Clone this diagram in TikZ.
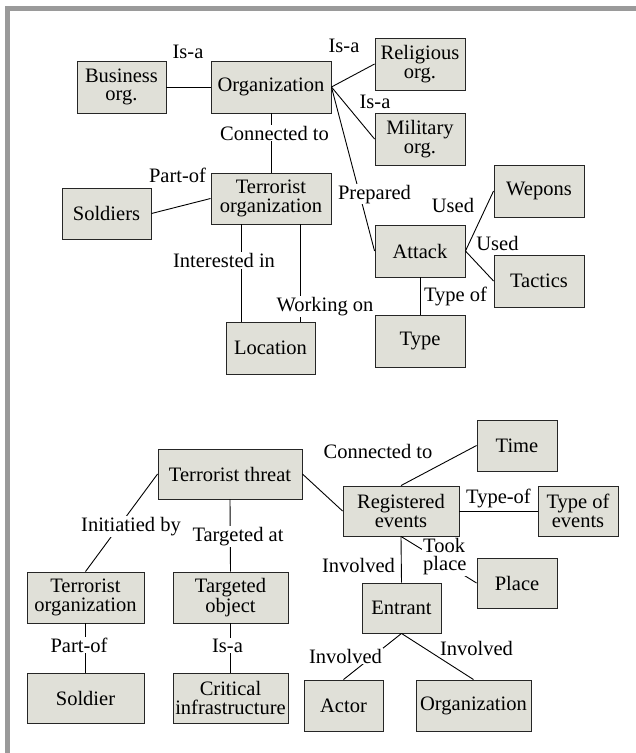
\documentclass[tikz,border=0pt]{standalone}
\usepackage{fontspec}
\setmainfont{Liberation Serif}
\newfontfamily\diagfont{Liberation Serif}
\definecolor{boxfill}{RGB}{224,224,216}
\definecolor{framegray}{RGB}{154,154,154}
\begin{document}
\begin{tikzpicture}[x=1pt,y=-1pt,
  txt/.style={font=\diagfont\fontsize{20.5}{18.5}\selectfont},
  box/.style={txt,draw=black!85,fill=boxfill,line width=0.9pt,inner sep=0pt,align=center},
  lab/.style={txt,fill=white,inner sep=1pt,anchor=base},
  conn/.style={line width=0.9pt,black}]
\useasboundingbox (0,0) rectangle (636,753);
% frame
\fill[framegray] (5,6) rectangle (636,10.5);
\fill[framegray] (5,6) rectangle (9.5,753);
% ---------- top diagram ----------
\node[box,minimum width=89pt,minimum height=52pt] (bus) at (121.5,87) {Business\\org.};
\node[box,minimum width=120pt,minimum height=52pt] (org) at (271,87) {Organization};
\node[box,minimum width=90pt,minimum height=52pt] (rel) at (420,64) {Religious\\org.};
\node[box,minimum width=90pt,minimum height=52pt] (mil) at (420,139) {Military\\org.};
\node[box,minimum width=120pt,minimum height=51pt] (torg) at (271,198.5) {Terrorist\\organization};
\node[box,minimum width=89pt,minimum height=51pt] (sol) at (106.5,213.5) {Soldiers};
\node[box,minimum width=89pt,minimum height=52pt] (loc) at (270.5,348) {Location};
\node[box,minimum width=90pt,minimum height=52pt] (att) at (420,251) {Attack};
\node[box,minimum width=90pt,minimum height=52pt] (wep) at (539,191) {Wepons};
\node[box,minimum width=90pt,minimum height=52pt] (tac) at (539,281) {Tactics};
\node[box,minimum width=90pt,minimum height=52pt] (typ) at (420,341) {Type};
% connectors
\draw[conn] (bus.east) -- (org.west);
\draw[conn] (org.east) -- (rel.west);
\draw[conn] (org.east) -- (mil.west);
\draw[conn] (org.east) -- (att.west);
\draw[conn] (org.south) -- (torg.north);
\draw[conn] (sol.east) -- (torg.west);
\draw[conn] ([xshift=-30pt]torg.south) -- ([xshift=-30pt]torg.south |- loc.north);
\draw[conn] ([xshift=29pt]torg.south) -- ([xshift=29pt]torg.south |- loc.north);
\draw[conn] (att.east) -- (wep.west);
\draw[conn] (att.east) -- (tac.west);
\draw[conn] (att.south) -- (typ.north);
% labels
\node[lab] (l1) at (188,58) {Is-a};
\node[lab] (l2) at (344,52) {Is-a};
\node[lab] (l3) at (375,108) {Is-a};
\node[lab] (l4) at (274.5,140) {Connected to};
\node[lab] (l5) at (177.5,182) {Part-of};
\node[lab] (l6) at (374.5,199) {Prepared};
\node[lab] (l7) at (453,212.5) {Used};
\node[lab] (l8) at (497.5,250) {Used};
\node[lab] (l9) at (455.5,301.5) {Type of};
\node[lab] (l10) at (224,267.5) {Interested in};
\node[lab] (l11) at (325,311.5) {Working on};
% ---------- bottom diagram ----------
\node[box,minimum width=144pt,minimum height=50pt] (tt) at (230,474) {Terrorist threat};
\node[box,minimum width=117pt,minimum height=51pt] (torgb) at (85.5,597.5) {Terrorist\\organization};
\node[box,minimum width=115pt,minimum height=51pt] (tobj) at (230.5,597.5) {Targeted\\object};
\node[box,minimum width=117pt,minimum height=50pt] (sold) at (85.5,698) {Soldier};
\node[box,minimum width=115pt,minimum height=50pt] (crit) at (230.5,698) {Critical\\infrastructure};
\node[box,minimum width=80pt,minimum height=51pt] (time) at (517,445.5) {Time};
\node[box,minimum width=116pt,minimum height=50pt] (reg) at (401,511) {Registered\\events};
\node[box,minimum width=80pt,minimum height=50pt] (toe) at (578,511) {Type of\\events};
\node[box,minimum width=80pt,minimum height=50pt] (place) at (517,583) {Place};
\node[box,minimum width=79pt,minimum height=50pt] (ent) at (401.5,608) {Entrant};
\node[box,minimum width=79pt,minimum height=51pt] (actor) at (343.5,705.5) {Actor};
\node[box,minimum width=115pt,minimum height=51pt] (orgb) at (473.5,705.5) {Organization};
% connectors
\draw[conn] (tt.west) -- (torgb.north);
\draw[conn] (tt.south) -- (tobj.north);
\draw[conn] (torgb.south) -- (sold.north);
\draw[conn] (tobj.south) -- (crit.north);
\draw[conn] (tt.east) -- (reg.west);
\draw[conn] (reg.north) -- (time.west);
\draw[conn] (reg.east) -- (toe.west);
\draw[conn] (reg.south) -- (place.west);
\draw[conn] (reg.south) -- (ent.north);
\draw[conn] (ent.south) -- (actor.north);
\draw[conn] (ent.south) -- (orgb.north);
% labels
\node[lab] (m1) at (131,531.5) {Initiatied by};
\node[lab] (m2) at (238,541.5) {Targeted at};
\node[lab] (m3) at (79,652) {Part-of};
\node[lab] (m4) at (227.5,652) {Is-a};
\node[lab] (m5) at (378,458) {Connected to};
\node[lab] (m6) at (498.5,503) {Type-of};
\node[lab,anchor=north west,align=left] (m7) at (422,537) {Took\\place};
\node[lab] (m8) at (358.5,572.5) {Involved};
\node[lab] (m9) at (345.5,663) {Involved};
\node[lab] (m10) at (476.5,655) {Involved};
\end{tikzpicture}
\end{document}
